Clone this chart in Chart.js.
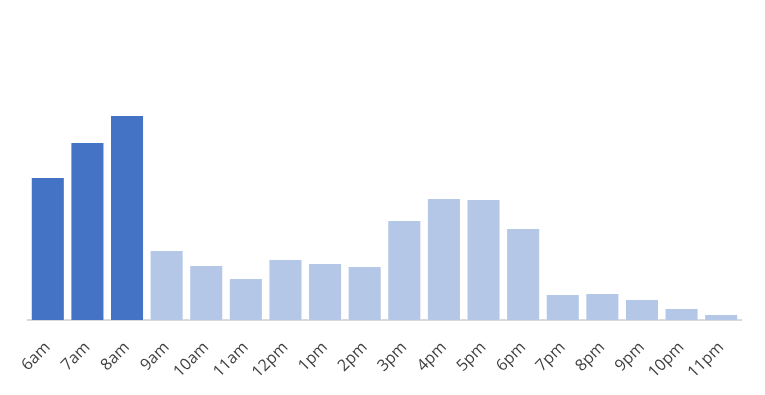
<!DOCTYPE html>
<html>
<head>
<meta charset="utf-8">
<script src="https://cdn.jsdelivr.net/npm/chart.js@4"></script>
<style>
  html, body { margin: 0; padding: 0; background: #fff; }
  #wrap { width: 765px; height: 395px; }
</style>
</head>
<body>
<div id="wrap"><canvas id="chart"></canvas></div>
<script>
const hours = ["6am", "7am", "8am", "9am", "10am", "11am", "12pm", "1pm", "2pm",
    "3pm", "4pm", "5pm", "6pm", "7pm", "8pm", "9pm", "10pm", "11pm"];
const visits = [143, 178, 205, 70, 55, 42, 61, 57, 54, 100, 122, 121, 92, 26, 27, 21, 12, 6];
const peakHours = ["6am", "7am", "8am"];

const darkBlue = "#4472c4";
const lightBlue = "#b4c7e7";

// highlight the morning peak
let barColors = hours.map(h => peakHours.includes(h) ? darkBlue : lightBlue);

new Chart(document.getElementById("chart"), {
    type: "bar",
    data: {
        labels: hours,
        datasets: [{
            data: visits,
            backgroundColor: barColors,
            borderColor: "rgba(255,255,255,0.5)",
            borderWidth: 1,
            barPercentage: 0.86,
            categoryPercentage: 1
        }]
    },
    options: {
        responsive: true,
        maintainAspectRatio: false,
        animation: false,
        layout: { padding: { top: 20, left: 28, right: 24, bottom: 0 } },
        plugins: { legend: { display: false }, tooltip: { enabled: false } },
        scales: {
            x: {
                grid: { display: false, drawTicks: false },
                border: { color: "#d9d9d9", width: 2 },
                ticks: {
                    color: "#404040",
                    font: { family: "Open Sans", size: 16 },
                    maxRotation: 45,
                    minRotation: 45,
                    padding: 18
                },
                // fixed label band so the baseline sits where the original has it
                afterFit: scale => { scale.height = 75; }
            },
            y: {
                display: false,
                min: 0,
                max: 300
            }
        }
    }
});
</script>
</body>
</html>
